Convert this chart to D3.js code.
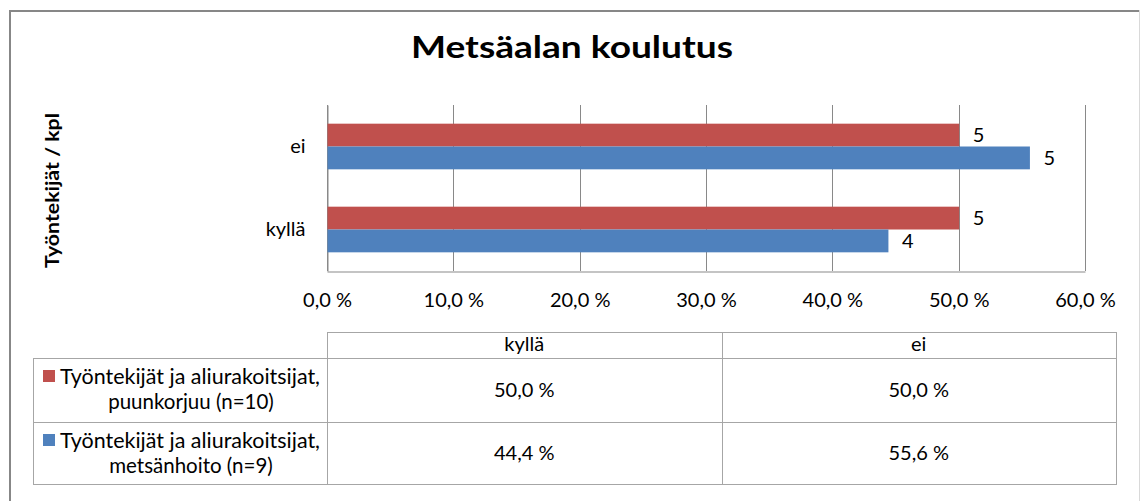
<!DOCTYPE html>
<html>
<head>
<meta charset="utf-8">
<script src="https://cdn.jsdelivr.net/npm/d3@7"></script>
<style>
  html, body { margin: 0; padding: 0; background: #fff; }
  svg { display: block; font-family: Lato, "Open Sans", sans-serif; }
</style>
</head>
<body>
<svg id="chart" width="1141" height="501"></svg>
<script>
// ---- data ----
const title = "Metsäalan koulutus";
const yAxisTitle = "Työntekijät / kpl";
const categories = ["kyllä", "ei"];
const categoryDisplayOrder = ["ei", "kyllä"];
const seriesNames = ["puunkorjuu", "metsänhoito"];
const seriesLabelLine1 = ["Työntekijät ja aliurakoitsijat,", "Työntekijät ja aliurakoitsijat,"];
const seriesLabelLine2 = ["puunkorjuu (n=10)", "metsänhoito (n=9)"];
const seriesColors = ["#C0504D", "#4F81BD"];
const puunkorjuuPct = [50.0, 50.0];
const metsanhoitoPct = [44.4, 55.6];
const puunkorjuuCount = [5, 5];
const metsanhoitoCount = [4, 5];
const xTicks = [0, 10, 20, 30, 40, 50, 60];

const seriesPct = [puunkorjuuPct, metsanhoitoPct];
const seriesCount = [puunkorjuuCount, metsanhoitoCount];

const fmtPct = v => v.toFixed(1).replace(".", ",") + " %";

const svg = d3.select("#chart");

// outer frame
svg.append("line").attr("x1", 9).attr("x2", 1139).attr("y1", 11).attr("y2", 11)
  .attr("stroke", "#878787").attr("stroke-width", 2);
svg.append("line").attr("x1", 10).attr("x2", 10).attr("y1", 10).attr("y2", 501)
  .attr("stroke", "#878787").attr("stroke-width", 2);
svg.append("line").attr("x1", 1139.5).attr("x2", 1139.5).attr("y1", 10).attr("y2", 501)
  .attr("stroke", "#d9d9d9").attr("stroke-width", 1);

// title
svg.append("text").attr("x", 572).attr("y", 58).attr("text-anchor", "middle")
  .attr("font-weight", "bold").attr("font-size", 30).attr("fill", "#000")
  .attr("textLength", 322).attr("lengthAdjust", "spacingAndGlyphs").text(title);

// y axis title
svg.append("text").attr("transform", "translate(59,190.5) rotate(-90)")
  .attr("text-anchor", "middle").attr("font-weight", "bold").attr("font-size", 19)
  .attr("textLength", 155).attr("lengthAdjust", "spacingAndGlyphs")
  .attr("fill", "#000").text(yAxisTitle);

// scales
const plot = { left: 327, right: 1085, top: 105, bottom: 271 };
const x = d3.scaleLinear().domain([0, 60]).range([plot.left, plot.right]);
const y = d3.scaleBand().domain(categoryDisplayOrder).range([plot.top, plot.bottom])
  .paddingInner(0.45).paddingOuter(0.225);
const ySub = d3.scaleBand().domain(seriesNames).range([0, y.bandwidth()]);

// gridlines
svg.append("g").selectAll("line").data(xTicks).join("line")
  .attr("x1", d => Math.round(x(d)) + 0.5).attr("x2", d => Math.round(x(d)) + 0.5)
  .attr("y1", plot.top).attr("y2", plot.bottom)
  .attr("stroke", "#898989").attr("stroke-width", 1);

// x axis
const xAxis = svg.append("g").attr("transform", `translate(0,${plot.bottom + 0.5})`)
  .call(d3.axisBottom(x).tickValues(xTicks).tickFormat(fmtPct).tickSize(0).tickPadding(0));
xAxis.select(".domain").attr("stroke", "#898989");
xAxis.selectAll("text").attr("font-family", "Lato, sans-serif").attr("font-size", 20)
  .attr("fill", "#000").attr("dy", null).attr("y", 35);

// y axis labels
const yAxis = svg.append("g").attr("transform", `translate(${plot.left + 0.5},0)`)
  .call(d3.axisLeft(y).tickSize(0).tickPadding(22));
yAxis.select(".domain").attr("stroke", "#898989");
yAxis.selectAll("text").attr("font-family", "Lato, sans-serif").attr("font-size", 20)
  .attr("fill", "#000");

// bars
const barData = [];
categories.forEach((c, ci) => {
  seriesNames.forEach((s, si) => {
    barData.push({ cat: c, series: s, si, pct: seriesPct[si][ci], count: seriesCount[si][ci] });
  });
});

svg.append("g").selectAll("rect").data(barData).join("rect")
  .attr("x", x(0) + 0.5)
  .attr("y", d => y(d.cat) + ySub(d.series))
  .attr("width", d => x(d.pct) - x(0))
  .attr("height", ySub.bandwidth())
  .attr("fill", d => seriesColors[d.si]);

// data labels
svg.append("g").selectAll("text").data(barData).join("text")
  .attr("x", d => x(d.pct) + 14)
  .attr("y", d => y(d.cat) + ySub(d.series) + ySub.bandwidth() / 2)
  .attr("dy", "0.36em")
  .attr("font-size", 20).attr("fill", "#000")
  .text(d => d.count);

// data table
const table = { legendLeft: 33, colLeft: plot.left, colRight: 1116,
  headTop: 332, headBottom: 358, rowHeights: [64, 62] };
const colX = d3.scaleBand().domain(categories).range([table.colLeft, table.colRight]);
const rowTops = [table.headBottom, table.headBottom + table.rowHeights[0]];
const tableBottom = rowTops[1] + table.rowHeights[1];
const g = svg.append("g").attr("fill", "none").attr("stroke", "#a6a6a6").attr("stroke-width", 1);

// header row
g.append("rect").attr("x", table.colLeft + 0.5).attr("y", table.headTop + 0.5)
  .attr("width", table.colRight - table.colLeft).attr("height", table.headBottom - table.headTop);
// body
g.append("rect").attr("x", table.legendLeft + 0.5).attr("y", table.headBottom + 0.5)
  .attr("width", table.colRight - table.legendLeft).attr("height", tableBottom - table.headBottom);
g.append("line").attr("x1", table.legendLeft).attr("x2", table.colRight)
  .attr("y1", rowTops[1] + 0.5).attr("y2", rowTops[1] + 0.5);
categories.forEach(c => {
  g.append("line").attr("x1", Math.round(colX(c)) + 0.5).attr("x2", Math.round(colX(c)) + 0.5)
    .attr("y1", table.headTop).attr("y2", tableBottom);
});

// header labels
svg.append("g").selectAll("text").data(categories).join("text")
  .attr("x", d => colX(d) + colX.bandwidth() / 2).attr("y", 351)
  .attr("text-anchor", "middle").attr("font-size", 20).attr("fill", "#000").text(d => d);

// values and legend cells
seriesNames.forEach((s, si) => {
  svg.append("g").selectAll("text").data(categories).join("text")
    .attr("x", d => colX(d) + colX.bandwidth() / 2)
    .attr("y", rowTops[si] + table.rowHeights[si] / 2)
    .attr("dy", "0.36em")
    .attr("text-anchor", "middle").attr("font-size", 20).attr("fill", "#000")
    .text((d, ci) => fmtPct(seriesPct[si][ci]));

  const top = rowTops[si];
  svg.append("rect").attr("x", 43).attr("y", top + 12).attr("width", 12).attr("height", 12)
    .attr("fill", seriesColors[si]);
  svg.append("text").attr("x", 60).attr("y", top + 26).attr("font-size", 20.5).attr("fill", "#000")
    .attr("textLength", 260).attr("lengthAdjust", "spacingAndGlyphs")
    .text(seriesLabelLine1[si]);
  svg.append("text").attr("x", 191).attr("y", top + 50.5).attr("text-anchor", "middle")
    .attr("font-size", 20.5).attr("fill", "#000").text(seriesLabelLine2[si]);
});
</script>
</body>
</html>
